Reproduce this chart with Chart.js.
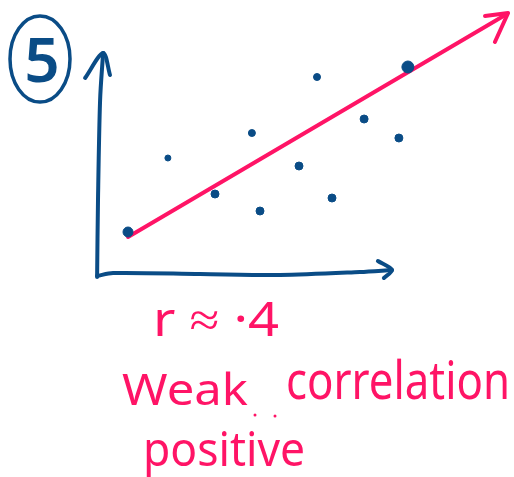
<!DOCTYPE html>
<html>
<head>
<meta charset="utf-8">
<script src="https://cdn.jsdelivr.net/npm/chart.js@4.4.1/dist/chart.umd.min.js"></script>
<style>
  html, body { margin: 0; padding: 0; background: #ffffff; }
  canvas { display: block; }
</style>
</head>
<body>
<canvas id="scatterChart" width="514" height="477"></canvas>
<script>
// scatter values (x, y)
const pointsX = [1.0, 2.33, 3.9, 5.13, 5.4, 6.7, 7.3, 7.8, 8.87, 10.03, 10.33];
const pointsY = [2.15, 5.85, 4.05, 7.1, 3.2, 5.45, 9.9, 3.85, 7.8, 6.85, 10.4];

// hand drawn line of best fit and its arrow head
const trendX = [1.0, 13.63];
const trendY = [1.9, 13.05];
const trendHeadX = [12.9, 13.67, 13.23];
const trendHeadY = [12.95, 13.1, 11.65];

// hand drawn axes
const yAxisX = [-0.03, 0.0, 0.07, 0.17];
const yAxisY = [-0.1, 3.75, 8.75, 11.1];
const yHeadX = [-0.43, 0.17, 0.4];
const yHeadY = [9.85, 11.1, 10.0];
const xAxisX = [-0.03, 0.5, 3.4, 6.07, 8.73, 9.8];
const xAxisY = [-0.05, 0.1, 0.05, 0.0, 0.15, 0.25];
const xHeadX = [9.33, 9.8, 9.53];
const xHeadY = [0.7, 0.25, -0.15];

const questionNo = "5";
const rLabel = "r ≈ ·4";
const noteLines = ["Weak", "correlation", "positive"];

const BLUE = "#0a4c86";
const PINK = "#ff1466";

const toXY = (xs, ys) => xs.map((x, i) => ({ x: x, y: ys[i] }));

function pen(xs, ys, color, width) {
  return {
    type: "line",
    data: toXY(xs, ys),
    borderColor: color,
    borderWidth: width,
    borderCapStyle: "round",
    borderJoinStyle: "round",
    pointRadius: 0,
    tension: 0.3,
    fill: false,
  };
}

// text stretched to a given width, optional vertical stretch
function fitText(ctx, text, x, y, width, size, sy) {
  ctx.save();
  ctx.font = size + "px 'Noto Sans'";
  const w = ctx.measureText(text).width;
  ctx.translate(x, y);
  ctx.scale(width / w, sy || 1);
  ctx.fillText(text, 0, 0);
  ctx.restore();
}

const notes = {
  id: "notes",
  afterDraw(chart) {
    const ctx = chart.ctx;
    ctx.save();
    ctx.textBaseline = "alphabetic";

    // circled question number
    ctx.strokeStyle = BLUE;
    ctx.lineWidth = 3.5;
    ctx.beginPath();
    ctx.ellipse(40, 59, 30, 43, 0, 0, Math.PI * 2);
    ctx.stroke();
    ctx.fillStyle = BLUE;
    ctx.font = "600 62px 'Noto Sans'";
    ctx.textAlign = "center";
    ctx.fillText(questionNo, 42, 82);

    ctx.textAlign = "left";
    ctx.fillStyle = PINK;
    fitText(ctx, rLabel, 153, 336, 126, 46, 1.05);
    fitText(ctx, noteLines[0], 122, 405, 126, 44, 1.0);
    fitText(ctx, noteLines[1], 286, 399, 224, 52, 1.0);
    fitText(ctx, noteLines[2], 143, 466, 162, 46, 1.05);

    // stray pen marks between the words
    [[255, 415], [275, 416]].forEach(([x, y]) => {
      ctx.beginPath();
      ctx.arc(x, y, 1.5, 0, Math.PI * 2);
      ctx.fill();
    });
    ctx.restore();
  },
};

new Chart(document.getElementById("scatterChart"), {
  type: "scatter",
  data: {
    datasets: [
      pen(yAxisX, yAxisY, BLUE, 4),
      pen(yHeadX, yHeadY, BLUE, 4),
      pen(xAxisX, xAxisY, BLUE, 4),
      pen(xHeadX, xHeadY, BLUE, 4),
      {
        type: "scatter",
        data: toXY(pointsX, pointsY),
        backgroundColor: BLUE,
        borderColor: BLUE,
        pointRadius: [5, 3, 4, 3.5, 4, 4, 3.5, 4, 4, 4, 6],
        pointHoverRadius: 0,
      },
      Object.assign(pen(trendX, trendY, PINK, 4), { tension: 0 }),
      Object.assign(pen(trendHeadX, trendHeadY, PINK, 4), { tension: 0 }),
    ],
  },
  options: {
    responsive: false,
    animation: false,
    layout: { padding: 0, autoPadding: false },
    plugins: { legend: { display: false }, tooltip: { enabled: false } },
    scales: {
      x: { type: "linear", display: false, min: -98 / 30, max: (514 - 98) / 30 },
      y: { type: "linear", display: false, min: -(477 - 275) / 20, max: 275 / 20 },
    },
  },
  plugins: [notes],
});
</script>
</body>
</html>
